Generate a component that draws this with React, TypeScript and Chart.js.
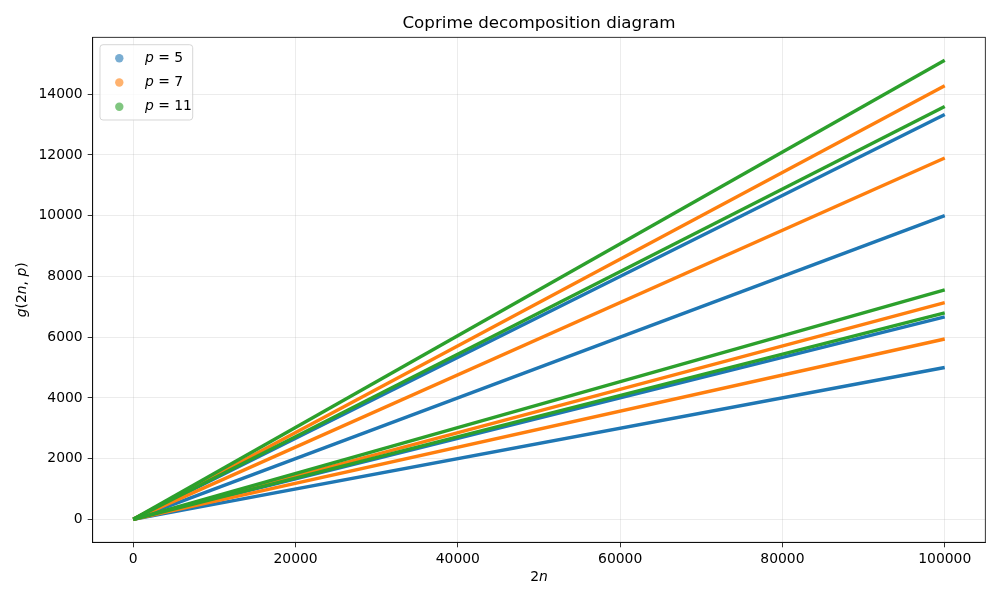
import { useEffect, useRef } from "react"
import { Chart, registerables } from "chart.js"

Chart.register(...registerables)

// values of g(2n, p) read at the right end (2n = 100000); every ray starts at the origin
const twoN = [0, 100000]
const p5Ends = [5000, 6667, 10000, 13333]
const p7Ends = [5940, 7140, 11900, 14280]
const p11Ends = [6800, 7560, 13600, 15120]

const seriesLabels = ["5", "7", "11"]
const xTicks = [0, 20000, 40000, 60000, 80000, 100000]
const yTicks = [0, 2000, 4000, 6000, 8000, 10000, 12000, 14000]

const FONT = "'DejaVu Sans', sans-serif"
const colors = ["#1f77b4", "#ff7f0e", "#2ca02c"]
const markerColors = ["rgba(31,119,180,0.6)", "rgba(255,127,14,0.6)", "rgba(44,160,44,0.6)"]

type Seg = { t: string; i?: boolean }

// draw text pieces, some in italics, mathtext-like
function drawSegs(ctx: CanvasRenderingContext2D, segs: Seg[], x: number, y: number, size: number, align: "left" | "center") {
  const widths = segs.map((s) => {
    ctx.font = `${s.i ? "italic " : ""}${size}px ${FONT}`
    return ctx.measureText(s.t).width
  })
  const total = widths.reduce((a, b) => a + b, 0)
  let cx = align === "center" ? x - total / 2 : x
  ctx.textAlign = "left"
  ctx.textBaseline = "middle"
  segs.forEach((s, k) => {
    ctx.font = `${s.i ? "italic " : ""}${size}px ${FONT}`
    ctx.fillText(s.t, cx, y)
    cx += widths[k]
  })
}

const decorations = {
  id: "decorations",
  afterDraw(chart: Chart) {
    const ctx = chart.ctx
    const a = chart.chartArea
    ctx.save()
    // top and right spines
    ctx.strokeStyle = "#000"
    ctx.lineWidth = 0.8
    ctx.strokeRect(a.left, a.top, a.right - a.left, a.bottom - a.top)

    ctx.fillStyle = "#000"
    const mid = (a.left + a.right) / 2
    ctx.font = `16.7px ${FONT}`
    ctx.textAlign = "center"
    ctx.textBaseline = "middle"
    ctx.fillText("Coprime decomposition diagram", mid, 23.5)

    drawSegs(ctx, [{ t: "2" }, { t: "n", i: true }], mid, 577, 13.9, "center")

    ctx.save()
    ctx.translate(22, (a.top + a.bottom) / 2)
    ctx.rotate(-Math.PI / 2)
    drawSegs(
      ctx,
      [{ t: "g", i: true }, { t: "(2" }, { t: "n", i: true }, { t: ", " }, { t: "p", i: true }, { t: ")" }],
      0,
      0,
      13.9,
      "center"
    )
    ctx.restore()

    // legend
    const lx = 100, ly = 44.7, lw = 92.7, lh = 75.3
    ctx.beginPath()
    ctx.roundRect(lx, ly, lw, lh, 3)
    ctx.fillStyle = "rgba(255,255,255,0.8)"
    ctx.fill()
    ctx.strokeStyle = "rgba(204,204,204,0.8)"
    ctx.lineWidth = 1
    ctx.stroke()
    seriesLabels.forEach((lab, k) => {
      const y = 58.3 + k * 24.2
      ctx.beginPath()
      ctx.arc(119.3, y, 4.2, 0, Math.PI * 2)
      ctx.fillStyle = markerColors[k]
      ctx.fill()
      ctx.fillStyle = "#000"
      drawSegs(ctx, [{ t: "p", i: true }, { t: " = " + lab }], 145, y, 13.9, "left")
    })
    ctx.restore()
  },
}

function rays(ends: number[], k: number) {
  return ends.map((end) => ({
    data: [
      { x: twoN[0], y: 0 },
      { x: twoN[1], y: end },
    ],
    showLine: true,
    borderColor: colors[k],
    backgroundColor: colors[k],
    borderWidth: 3.4,
    pointRadius: 0,
    order: 3 - k,
  }))
}

function CoprimeChart() {
  const chartRef = useRef<HTMLCanvasElement>(null)
  const chartInstance = useRef<Chart | null>(null)

  useEffect(() => {
    if (!chartRef.current) return
    if (chartInstance.current) chartInstance.current.destroy()
    const ctx = chartRef.current.getContext("2d")
    if (!ctx) return

    const tickFont = { family: FONT, size: 13.9 }
    const grid = {
      color: "rgba(176,176,176,0.3)",
      lineWidth: 0.8,
      tickColor: "#000",
      tickWidth: 0.8,
      tickLength: 5,
    }

    chartInstance.current = new Chart(ctx, {
      type: "scatter",
      data: {
        datasets: [...rays(p5Ends, 0), ...rays(p7Ends, 1), ...rays(p11Ends, 2)],
      },
      options: {
        responsive: false,
        animation: false,
        layout: { padding: { top: 37.3, right: 14.7, left: 0, bottom: 0 } },
        scales: {
          x: {
            type: "linear",
            min: -5000,
            max: 105000,
            grid,
            border: { display: true, color: "#000", width: 0.8 },
            ticks: { font: tickFont, color: "#000", padding: 4, maxRotation: 0, callback: (v) => String(v) },
            afterBuildTicks: (scale) => {
              scale.ticks = xTicks.map((v) => ({ value: v }))
            },
            afterFit: (scale) => {
              scale.height = 57.7
            },
          },
          y: {
            type: "linear",
            min: -756,
            max: 15876,
            grid,
            border: { display: true, color: "#000", width: 0.8 },
            ticks: { font: tickFont, color: "#000", padding: 5, callback: (v) => String(v) },
            afterBuildTicks: (scale) => {
              scale.ticks = yTicks.map((v) => ({ value: v }))
            },
            afterFit: (scale) => {
              scale.width = 92.7
            },
          },
        },
        plugins: {
          legend: { display: false },
          tooltip: { enabled: false },
        },
      },
      plugins: [decorations],
    })

    return () => {
      if (chartInstance.current) {
        chartInstance.current.destroy()
        chartInstance.current = null
      }
    }
  }, [])

  return <canvas ref={chartRef} width={1000} height={600} />
}

export default function App() {
  return (
    <div style={{ position: "fixed", left: 0, top: 0, width: 1000, height: 600, background: "#fff" }}>
      <CoprimeChart />
    </div>
  )
}
